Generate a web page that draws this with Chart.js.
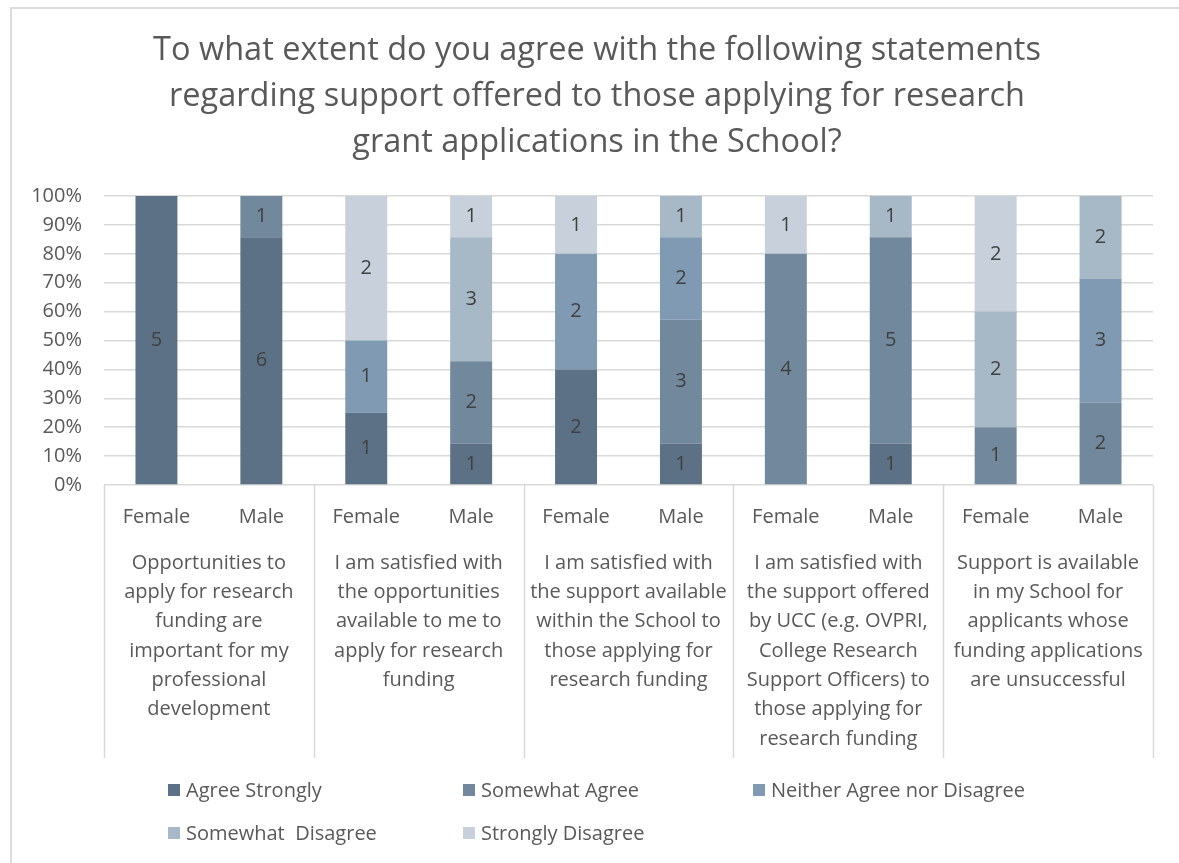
<!DOCTYPE html>
<html>
<head>
<meta charset="utf-8">
<title>Research grant support</title>
<script src="https://cdn.jsdelivr.net/npm/chart.js@4/dist/chart.umd.min.js"></script>
<style>
  html, body { margin: 0; padding: 0; background: #fff; overflow: hidden; }
  #wrap { position: relative; width: 1179px; height: 863px; overflow: hidden; }
  #frame { position: absolute; left: 10px; top: 7px; right: 0; bottom: 0; border-top: 2px solid #dcdcdc; border-left: 2px solid #dcdcdc; }
  #chart { position: absolute; left: 0; top: 0; }
  #legend { position: absolute; left: 168px; top: 768px; display: grid; grid-template-columns: 295px 290px auto; grid-auto-rows: 43px; font-family: 'Open Sans', sans-serif; font-size: 20px; color: #595959; }
  #legend .item { display: flex; align-items: center; white-space: pre; }
  #legend .box { width: 12px; height: 12px; margin-right: 6px; }
</style>
</head>
<body>
<div id="wrap">
  <div id="frame"></div>
  <canvas id="chart" width="1179" height="863"></canvas>
  <div id="legend"></div>
</div>
<script>
const titleLines = [
    'To what extent do you agree with the following statements',
    'regarding support offered to those applying for research',
    'grant applications in the School?'
];

const statements = [
    ['Opportunities to', 'apply for research', 'funding are', 'important for my', 'professional', 'development'],
    ['I am satisfied with', 'the opportunities', 'available to me to', 'apply for research', 'funding'],
    ['I am satisfied with', 'the support available', 'within the School to', 'those applying for', 'research funding'],
    ['I am satisfied with', 'the support offered', 'by UCC (e.g. OVPRI,', 'College Research', 'Support Officers) to', 'those applying for', 'research funding'],
    ['Support is available', 'in my School for', 'applicants whose', 'funding applications', 'are unsuccessful']
];
const genders = ['Female', 'Male'];

// response counts, one entry per column (statement x gender)
const agreeStrongly    = [5, 6, 1, 1, 2, 1, 0, 1, 0, 0];
const somewhatAgree    = [0, 1, 0, 2, 0, 3, 4, 5, 1, 2];
const neitherAgree     = [0, 0, 1, 0, 2, 2, 0, 0, 0, 3];
const somewhatDisagree = [0, 0, 0, 3, 0, 1, 0, 1, 2, 2];
const stronglyDisagree = [0, 0, 2, 1, 1, 0, 1, 0, 2, 0];

const seriesNames  = ['Agree Strongly', 'Somewhat Agree', 'Neither Agree nor Disagree', 'Somewhat  Disagree', 'Strongly Disagree'];
const seriesCounts = [agreeStrongly, somewhatAgree, neitherAgree, somewhatDisagree, stronglyDisagree];
const seriesColors = ['#5d7186', '#71889d', '#7f9ab2', '#a7b8c7', '#c8d1db'];

const yTicks = [0, 10, 20, 30, 40, 50, 60, 70, 80, 90, 100];

const labels = [];
statements.forEach(() => genders.forEach(g => labels.push(g)));

const totals = labels.map((_, j) => seriesCounts.reduce((s, arr) => s + arr[j], 0));

const FONT = "'Open Sans', sans-serif";
const TEXT = '#595959';
const GRID = '#d9d9d9';

Chart.defaults.font.family = FONT;

// title drawn across the whole frame
const titlePlugin = {
    id: 'titleBlock',
    afterDraw(chart) {
        const ctx = chart.ctx;
        ctx.save();
        ctx.font = '32.5px ' + FONT;
        ctx.fillStyle = TEXT;
        ctx.textAlign = 'center';
        ctx.textBaseline = 'middle';
        titleLines.forEach((line, i) => ctx.fillText(line, 597, 51 + i * 46));
        ctx.restore();
    }
};

// counts written in the middle of each segment
const countLabels = {
    id: 'countLabels',
    afterDatasetsDraw(chart) {
        const ctx = chart.ctx;
        ctx.save();
        ctx.font = '20px ' + FONT;
        ctx.fillStyle = '#404040';
        ctx.textAlign = 'center';
        ctx.textBaseline = 'middle';
        chart.data.datasets.forEach((ds, i) => {
            chart.getDatasetMeta(i).data.forEach((bar, j) => {
                const n = seriesCounts[i][j];
                if (n > 0) ctx.fillText(String(n), bar.x, (bar.y + bar.base) / 2);
            });
        });
        ctx.restore();
    }
};

// statement labels under each Female/Male pair, with separators
const statementAxis = {
    id: 'statementAxis',
    afterDraw(chart) {
        const ctx = chart.ctx;
        const x = chart.scales.x;
        const top = chart.chartArea.bottom;
        const bottom = top + x.height;
        const step = x.getPixelForValue(1) - x.getPixelForValue(0);
        ctx.save();
        ctx.strokeStyle = GRID;
        ctx.lineWidth = 1.5;
        for (let g = 0; g <= statements.length; g++) {
            const px = Math.round(x.getPixelForValue(g * 2) - step / 2) + 0.5;
            ctx.beginPath();
            ctx.moveTo(px, top);
            ctx.lineTo(px, bottom);
            ctx.stroke();
        }
        ctx.font = '20px ' + FONT;
        ctx.fillStyle = TEXT;
        ctx.textAlign = 'center';
        ctx.textBaseline = 'middle';
        statements.forEach((lines, g) => {
            const cx = (x.getPixelForValue(g * 2) + x.getPixelForValue(g * 2 + 1)) / 2;
            lines.forEach((line, k) => ctx.fillText(line, cx, top + 78 + k * 29.3));
        });
        ctx.restore();
    }
};

const chart = new Chart(document.getElementById('chart'), {
    type: 'bar',
    data: {
        labels: labels,
        datasets: seriesNames.map((name, i) => ({
            label: name,
            data: seriesCounts[i].map((n, j) => n / totals[j] * 100),
            backgroundColor: seriesColors[i],
            borderWidth: 0,
            barPercentage: 0.4,
            categoryPercentage: 1
        }))
    },
    options: {
        responsive: false,
        animation: false,
        devicePixelRatio: 1,
        layout: { padding: { left: 10, right: 26, top: 196, bottom: 105 } },
        plugins: {
            legend: { display: false },
            title: { display: false },
            tooltip: { enabled: false }
        },
        scales: {
            x: {
                stacked: true,
                grid: { display: false, drawTicks: false },
                border: { display: false },
                ticks: { font: { size: 20 }, color: TEXT, padding: 20, maxRotation: 0, autoSkip: false },
                afterFit(scale) { scale.height = 273; }
            },
            y: {
                stacked: true,
                min: 0,
                max: 100,
                afterBuildTicks(scale) { scale.ticks = yTicks.map(v => ({ value: v })); },
                ticks: { font: { size: 20 }, color: TEXT, padding: 22, callback: v => v + '%' },
                grid: { color: GRID, lineWidth: 1.5, drawTicks: false },
                border: { display: false },
                afterFit(scale) { scale.width = 94; }
            }
        }
    },
    plugins: [titlePlugin, countLabels, statementAxis]
});

// legend laid out in three columns below the chart
const legendDiv = document.getElementById('legend');
legendDiv.innerHTML = chart.data.datasets.map(ds => `
    <div class="item"><span class="box" style="background:${ds.backgroundColor}"></span>${ds.label}</div>
`).join('');
</script>
</body>
</html>
